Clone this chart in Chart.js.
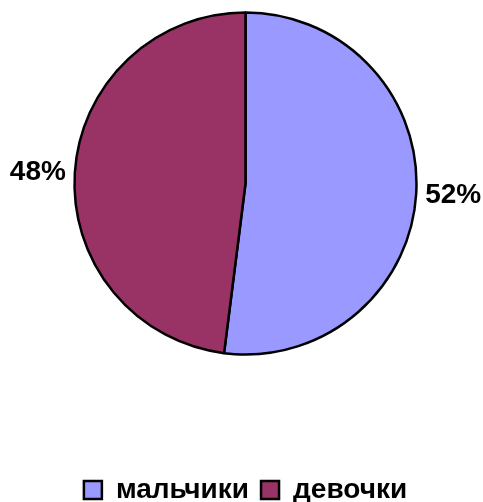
<!DOCTYPE html>
<html>
<head>
<meta charset="utf-8">
<script src="https://cdn.jsdelivr.net/npm/chart.js@4"></script>
<style>
  html, body { margin: 0; padding: 0; background: #ffffff; }
  #wrap { width: 483px; height: 502px; }
</style>
</head>
<body>
<div id="wrap"><canvas id="c" width="483" height="502"></canvas></div>
<script>
const categories = ['мальчики', 'девочки'];
const values = [52, 48];
const colors = ['#9999FF', '#993366'];

const FONT = "'Liberation Sans', Arial, Helvetica, sans-serif";

const outsideLabels = {
  id: 'outsideLabels',
  afterDatasetsDraw(chart) {
    const ctx = chart.ctx;
    const meta = chart.getDatasetMeta(0);
    const data = chart.data.datasets[0].data;
    const total = data.reduce((a, b) => a + b, 0);
    ctx.save();
    ctx.font = 'bold 28px ' + FONT;
    ctx.fillStyle = '#000000';
    ctx.textBaseline = 'middle';
    meta.data.forEach((arc, i) => {
      const p = arc.getProps(['x', 'y', 'startAngle', 'endAngle', 'outerRadius'], true);
      const mid = (p.startAngle + p.endAngle) / 2;
      const d = p.outerRadius + 9;
      const cx = p.x + Math.cos(mid) * d;
      const cy = p.y + Math.sin(mid) * d;
      ctx.textAlign = Math.cos(mid) >= 0 ? 'left' : 'right';
      ctx.fillText(Math.round(data[i] / total * 100) + '%', cx, cy);
    });
    ctx.restore();
  }
};

new Chart(document.getElementById('c'), {
  type: 'pie',
  data: {
    labels: categories,
    datasets: [{
      data: values,
      backgroundColor: colors,
      borderColor: '#000000',
      borderWidth: 2.5,
      hoverOffset: 0
    }]
  },
  options: {
    responsive: false,
    animation: false,
    radius: 171,
    layout: { padding: { left: 8, right: 0, top: 0, bottom: -12 } },
    plugins: {
      tooltip: { enabled: false },
      legend: {
        position: 'bottom',
        title: { display: true, text: '', font: { size: 10 }, padding: { top: 85, bottom: 0 } },
        labels: {
          boxWidth: 18,
          boxHeight: 18,
          padding: 12,
          color: '#000000',
          font: { family: FONT, size: 28, weight: 'bold' }
        }
      }
    }
  },
  plugins: [outsideLabels]
});
</script>
</body>
</html>
